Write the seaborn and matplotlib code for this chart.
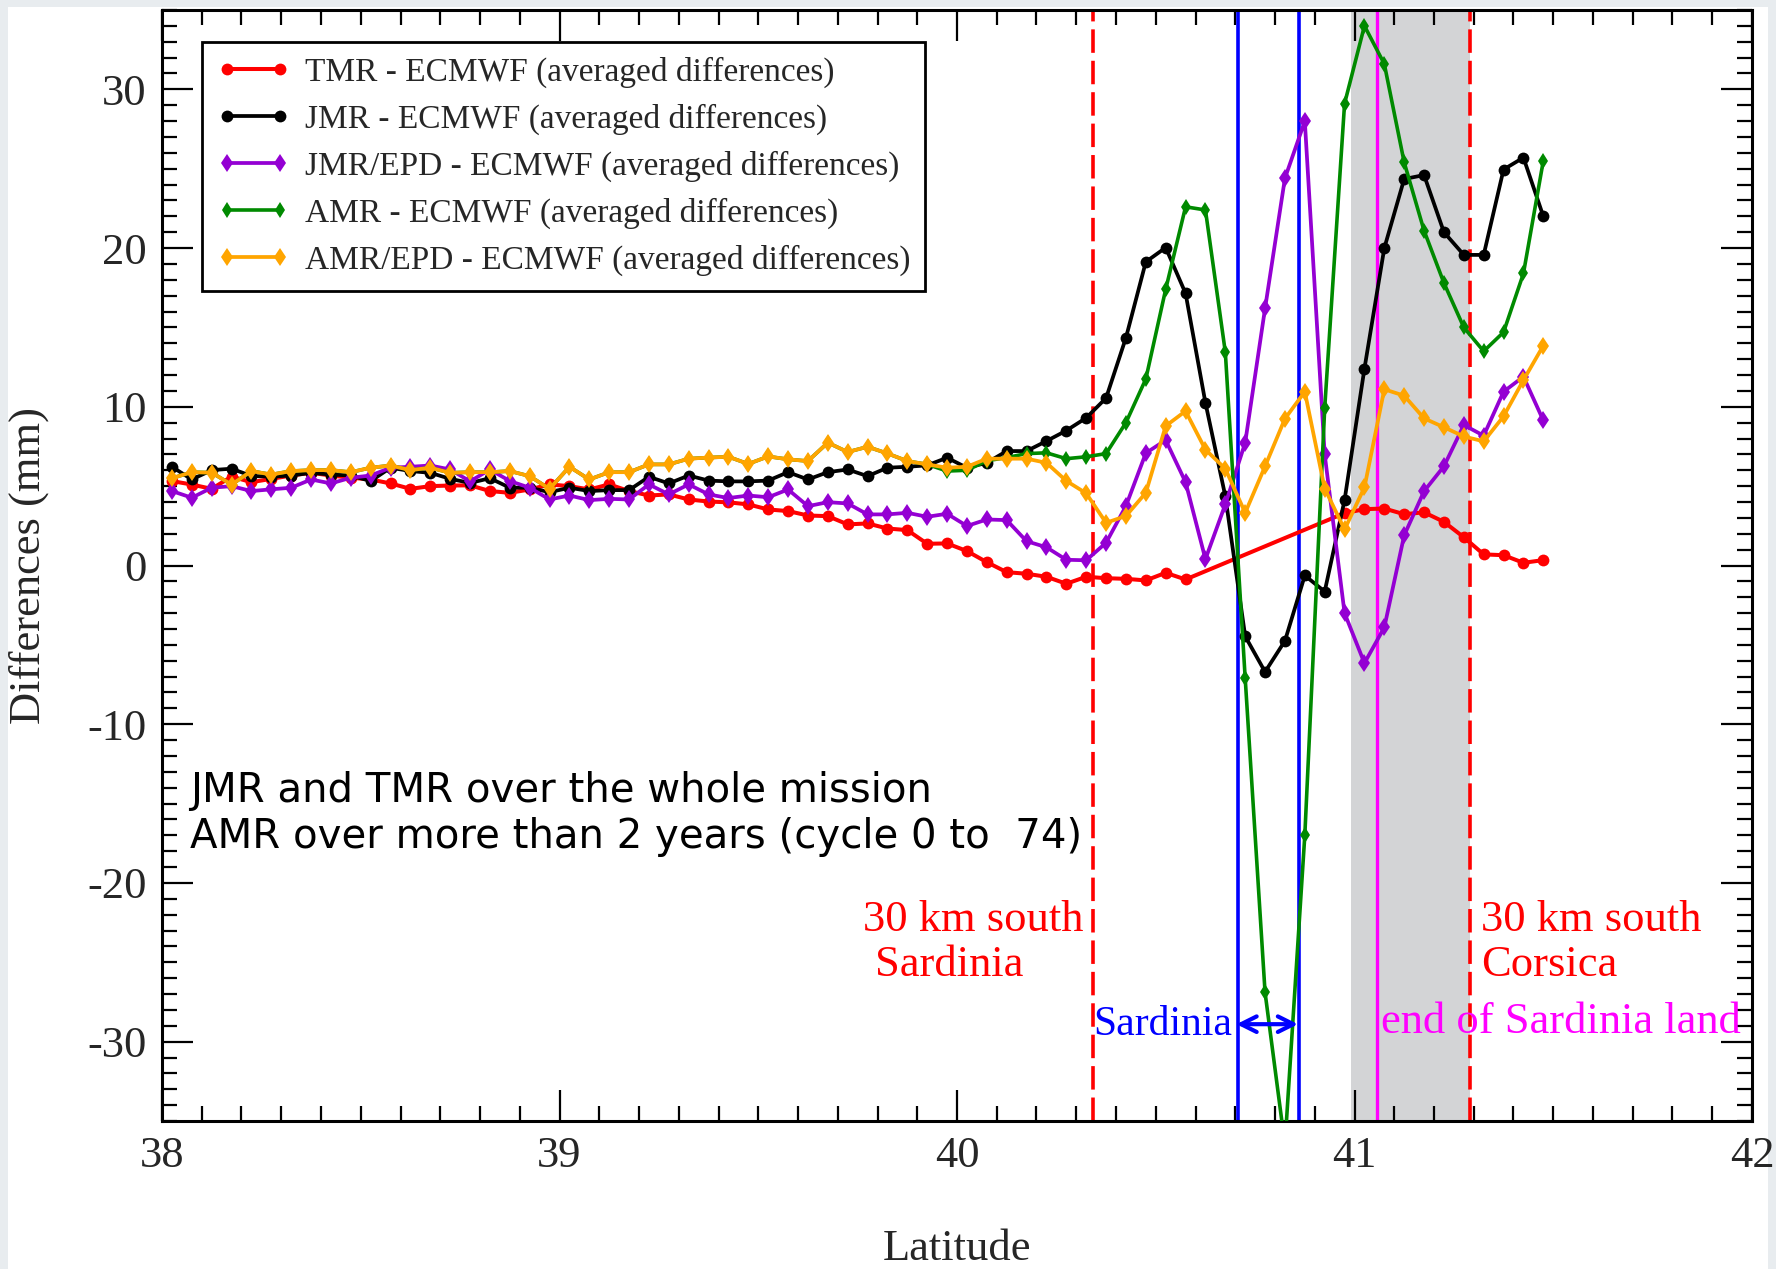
import numpy as np
import pandas as pd
import matplotlib
matplotlib.use("Agg")
import matplotlib.pyplot as plt
from matplotlib.patches import Rectangle
from matplotlib.ticker import MultipleLocator
import seaborn as sns

# Along-track latitude bins (0.05 deg)
latitude = np.round(38.025 + 0.05 * np.arange(70), 3)

# Averaged differences (mm) per bin
tmr = [5.32, 5.10, 4.83, 5.60, 5.25, 5.46, 5.67, 5.84, 5.67, 5.53,
       5.42, 5.17, 4.83, 5.00, 5.04, 5.05, 4.69, 4.58, 4.79, 5.11,
       5.00, 4.79, 5.11, 4.69, 4.41, 4.48, 4.16, 4.03, 3.98, 3.85,
       3.53, 3.43, 3.15, 3.11, 2.59, 2.65, 2.33, 2.23, 1.37, 1.39,
       0.91, 0.21, -0.42, -0.52, -0.71, -1.15, -0.71, -0.80, -0.84, -0.94,
       -0.46, -0.88, None, None, None, None, None, None, None, 3.30,
       3.55, 3.59, 3.23, 3.35, 2.75, 1.78, 0.70, 0.65, 0.17, 0.34]

jmr = [6.22, 5.42, 6.01, 6.10, 5.64, 5.60, 5.67, 5.84, 5.73, 5.67,
       5.32, 6.16, 5.95, 5.84, 5.46, 5.20, 5.50, 4.90, 4.90, 4.62,
       4.90, 4.69, 4.75, 4.75, 5.59, 5.17, 5.67, 5.35, 5.30, 5.30,
       5.35, 5.88, 5.42, 5.88, 6.05, 5.63, 6.16, 6.22, 6.31, 6.79,
       6.16, 6.47, 7.21, 7.21, 7.84, 8.50, 9.30, 10.55, 14.35, 19.13,
       20.03, 17.15, 10.25, 4.37, -4.46, -6.70, -4.75, -0.63, -1.64, 4.12,
       12.40, 20.00, 24.35, 24.60, 21.00, 19.57, 19.57, 24.95, 25.70, 22.00]

jmr_epd = [4.69, 4.27, 4.90, 5.00, 4.69, 4.80, 4.90, 5.42, 5.17, 5.53,
           5.67, 6.16, 6.22, 6.30, 6.05, 5.30, 6.05, 5.32, 4.90, 4.16,
           4.41, 4.12, 4.20, 4.16, 5.11, 4.48, 5.11, 4.48, 4.25, 4.41,
           4.30, 4.79, 3.74, 3.99, 3.91, 3.22, 3.22, 3.32, 3.07, 3.26,
           2.49, 2.90, 2.86, 1.53, 1.15, 0.36, 0.33, 1.43, 3.75, 7.08,
           7.90, 5.25, 0.40, 3.85, 7.74, 16.20, 24.40, 28.00, 7.00, -3.00,
           -6.15, -3.90, 1.90, 4.68, 6.25, 8.85, 8.18, 10.95, 11.90, 9.14]

amr = [5.50, 5.88, 5.85, 5.10, 5.95, 5.73, 5.95, 6.01, 6.01, 5.88,
       6.16, 6.30, 6.01, 6.16, 5.84, 5.88, 5.88, 5.95, 5.63, 4.83,
       6.22, 5.42, 5.88, 5.88, 6.37, 6.37, 6.73, 6.80, 6.85, 6.40,
       6.87, 6.69, 6.58, 7.74, 7.15, 7.48, 7.06, 6.58, 6.37, 5.95,
       6.00, 6.60, 6.80, 7.05, 7.10, 6.73, 6.85, 7.05, 9.00, 11.75,
       17.40, 22.60, 22.40, 13.45, -7.10, -26.90, -36.50, -17.00, 9.90, 29.10,
       34.00, 31.60, 25.40, 21.10, 17.80, 15.00, 13.50, 14.70, 18.40, 25.50]

amr_epd = [5.50, 5.88, 5.85, 5.10, 5.95, 5.73, 5.95, 6.01, 6.01, 5.88,
           6.16, 6.30, 6.01, 6.16, 5.84, 5.88, 5.88, 5.95, 5.63, 4.83,
           6.22, 5.42, 5.88, 5.88, 6.37, 6.37, 6.73, 6.80, 6.85, 6.40,
           6.87, 6.69, 6.58, 7.74, 7.15, 7.48, 7.06, 6.58, 6.37, 6.16,
           6.22, 6.73, 6.73, 6.73, 6.47, 5.33, 4.55, 2.69, 3.12, 4.58,
           8.79, 9.73, 7.30, 6.10, 3.32, 6.25, 9.25, 10.95, 4.85, 2.27,
           4.92, 11.10, 10.70, 9.27, 8.71, 8.13, 7.82, 9.40, 11.68, 13.85]

series_labels = ["TMR - ECMWF (averaged differences)",
                 "JMR - ECMWF (averaged differences)",
                 "JMR/EPD - ECMWF (averaged differences)",
                 "AMR - ECMWF (averaged differences)",
                 "AMR/EPD - ECMWF (averaged differences)"]
series_values = [tmr, jmr, jmr_epd, amr, amr_epd]
series_colors = ["#ff0000", "#000000", "#9400d3", "#008a00", "#ffa500"]
series_markers = ["o", "o", "d", "d", "d"]
series_msize = [8.5, 8.5, 9.5, 8.5, 9.5]
series_lw = [2.9, 2.7, 2.7, 2.6, 2.7]

# Reference latitudes
sardinia_30km = 40.342
corsica_30km = 41.29
sardinia_coast = [40.706, 40.86]
sardinia_land_end = 41.057
shade_span = (40.99, 41.29)

sns.set_theme(style="ticks")
plt.rcParams["font.family"] = ["Liberation Serif", "DejaVu Serif"]
plt.rcParams["axes.unicode_minus"] = False

W, H = 1776, 1269
fig = plt.figure(figsize=(W / 100, H / 100), dpi=100)
fig.patch.set_facecolor("#e8ecef")
fig.add_artist(Rectangle((8 / W, 0), (1768 - 8) / W, (H - 7) / H,
                         transform=fig.transFigure, facecolor="white",
                         edgecolor="none", zorder=-10))

ax = fig.add_axes([162 / W, 1 - 1121 / H, 1590 / W, 1111 / H])
ax.set_facecolor("white")

rows = []
for lab, vals in zip(series_labels, series_values):
    for la, v in zip(latitude, vals):
        rows.append({"Latitude": la, "value": v, "series": lab})
df = pd.DataFrame(rows).dropna()

for lab, col, mk, ms, lw in zip(series_labels, series_colors, series_markers,
                                series_msize, series_lw):
    sub = df[df["series"] == lab]
    sns.lineplot(data=sub, x="Latitude", y="value", ax=ax, color=col,
                 marker=mk, markersize=ms, markeredgewidth=0, linewidth=lw,
                 estimator=None, sort=True, label=lab, zorder=3)

# Shaded zone and reference lines
ax.axvspan(*shade_span, color="#d3d4d6", lw=0, zorder=0.5)
for xv in (sardinia_30km, corsica_30km):
    ax.axvline(xv, color="#ff0000", lw=2.6, ls=(0, (6.5, 2.2)), zorder=2)
for xv in sardinia_coast:
    ax.axvline(xv, color="#0000ff", lw=2.6, zorder=2)
ax.axvline(sardinia_land_end, color="#ff00ff", lw=2.4, zorder=2)

ax.set_xlim(38, 42)
ax.set_ylim(-35, 35)
ax.xaxis.set_major_locator(MultipleLocator(1))
ax.xaxis.set_minor_locator(MultipleLocator(0.1))
ax.yaxis.set_major_locator(MultipleLocator(10))
ax.yaxis.set_minor_locator(MultipleLocator(1))
ax.tick_params(which="both", direction="in", top=True, right=True,
               width=1.6, color="black", labelsize=32, pad=11)
ax.tick_params(which="major", length=22)
ax.tick_params(which="minor", length=11)
for sp in ax.spines.values():
    sp.set_linewidth(2.2)
    sp.set_color("black")

ax.set_xlabel("Latitude", fontsize=32)
ax.set_ylabel("Differences (mm)", fontsize=32)
ax.xaxis.set_label_coords(0.5, -0.097)
ax.yaxis.set_label_coords(-0.071, 0.5)

leg = ax.legend(loc="upper left", bbox_to_anchor=(0.0249, 0.9713),
                borderaxespad=0, fontsize=24, numpoints=2, handlelength=2.2,
                handletextpad=0.45, labelspacing=0.47, borderpad=0.45,
                frameon=True, fancybox=False, edgecolor="black", framealpha=1)
leg.get_frame().set_linewidth(2.0)

# Annotations
ax.text(38.071, -14.93, "JMR and TMR over the whole mission", fontsize=29,
        family=["DejaVu Sans"], color="black", va="baseline", ha="left")
ax.text(38.071, -17.8, "AMR over more than 2 years (cycle 0 to  74)", fontsize=29,
        family=["DejaVu Sans"], color="black", va="baseline", ha="left")

ax.text(39.763, -23.0, "30 km south", fontsize=32, color="#ff0000", va="baseline")
ax.text(39.794, -25.85, "Sardinia", fontsize=32, color="#ff0000", va="baseline")
ax.text(41.318, -23.0, "30 km south", fontsize=32, color="#ff0000", va="baseline")
ax.text(41.318, -25.85, "Corsica", fontsize=32, color="#ff0000", va="baseline")
ax.text(40.342, -29.6, "Sardinia", fontsize=30, color="#0000ff", va="baseline")
ax.text(41.067, -29.45, "end of Sardinia land", fontsize=32, color="#ff00ff",
        va="baseline", zorder=4)
ax.annotate("", xy=(40.858, -28.9), xytext=(40.703, -28.9),
            arrowprops=dict(arrowstyle="<->", color="#0000ff", lw=3,
                            mutation_scale=28, shrinkA=0, shrinkB=0))

fig.savefig("out.png", dpi=100, facecolor=fig.get_facecolor())
